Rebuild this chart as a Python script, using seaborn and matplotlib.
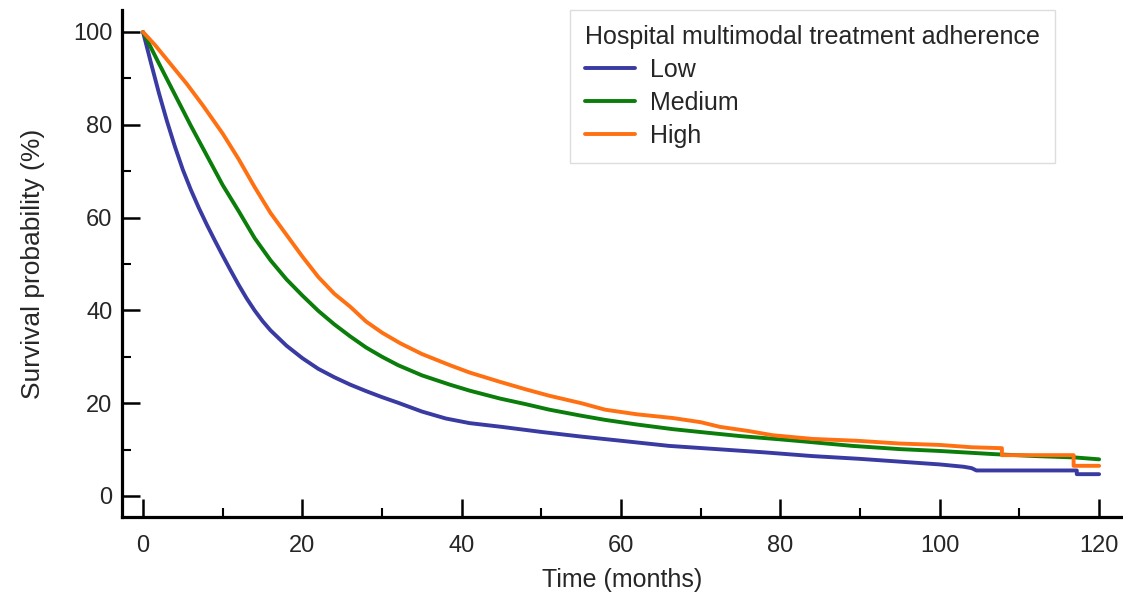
import numpy as np
import pandas as pd
import seaborn as sns
from matplotlib import pyplot as plt
from matplotlib.ticker import MultipleLocator

# survival curves (months, %)
low_t = [0, 1, 2, 3, 4, 5, 6, 7, 8, 9, 10, 11, 12, 13, 14, 15, 16, 18, 20, 22, 24, 26, 28, 30, 32, 35, 38,
         41, 45, 50, 55, 60, 66, 72, 78, 84, 90, 95, 100, 103, 104, 104.6, 117.2, 117.2, 120]
low_s = [100, 93.3, 86.8, 80.8, 75.3, 70.3, 66.0, 62.1, 58.5, 55.1, 51.8, 48.6, 45.5, 42.6, 40.0, 37.7, 35.7,
         32.4, 29.7, 27.4, 25.6, 24.0, 22.6, 21.3, 20.1, 18.2, 16.7, 15.7, 14.9, 13.8, 12.8, 11.9, 10.8,
         10.1, 9.4, 8.6, 8.0, 7.4, 6.8, 6.3, 6.0, 5.5, 5.5, 4.7, 4.7]

med_t = [0, 2, 4, 6, 8, 10, 12, 14, 16, 18, 20, 22, 24, 26, 28, 30, 32, 35, 38.5, 41, 44.8, 48, 51,
         55, 58, 62, 66.5, 71, 75, 80, 83.3, 89, 95, 100, 104, 107, 112, 117, 120]
med_s = [100, 93.2, 86.5, 79.8, 73.4, 67.0, 61.4, 55.6, 50.8, 46.7, 43.2, 39.9, 37.0, 34.4, 32.0, 30.0,
         28.2, 26.0, 24.0, 22.7, 21.0, 19.8, 18.6, 17.3, 16.4, 15.4, 14.4, 13.6, 12.9, 12.2, 11.7, 10.8,
         10.1, 9.7, 9.3, 9.0, 8.6, 8.3, 7.9]

high_t = [0, 1.5, 3.5, 5.5, 7.5, 10, 12, 14, 16, 18, 20, 22, 24, 26, 28, 30, 32.3, 35, 38.5, 41, 44.8, 48,
          51, 55, 58, 62, 66.5, 70, 72.4, 76, 79, 84, 89.6, 95, 100, 104, 107.8, 107.8, 112, 116.8, 116.8,
          120]
high_s = [100, 97.2, 93.0, 88.8, 84.2, 78.1, 72.6, 66.6, 61.0, 56.3, 51.6, 47.2, 43.6, 40.8, 37.6, 35.2,
          32.9, 30.6, 28.2, 26.6, 24.6, 23.0, 21.6, 20.0, 18.6, 17.6, 16.8, 15.9, 14.9, 14.0, 13.1, 12.3,
          11.9, 11.3, 11.0, 10.5, 10.3, 8.8, 8.8, 8.8, 6.5, 6.5]

groups = ["Low", "Medium", "High"]
colors = {"Low": "#3a3aa3", "Medium": "#0a7d0a", "High": "#ff7012"}

df = pd.concat([
    pd.DataFrame({"time": low_t, "surv": low_s, "group": "Low"}),
    pd.DataFrame({"time": med_t, "surv": med_s, "group": "Medium"}),
    pd.DataFrame({"time": high_t, "surv": high_s, "group": "High"}),
], ignore_index=True)

sns.set_theme(style="ticks")
plt.rcParams['font.family'] = ['Liberation Sans', 'DejaVu Sans']

fig = plt.figure(figsize=(11.23, 6.01), dpi=100)
ax = fig.add_axes([122 / 1123, 84 / 601, 1001 / 1123, 507 / 601])

sns.lineplot(data=df, x="time", y="surv", hue="group", hue_order=groups, palette=colors,
             estimator=None, sort=False, lw=2.8, ax=ax)

ax.set_xlim(-2.64, 123.0)
ax.set_ylim(-4.53, 104.74)
ax.xaxis.set_minor_locator(MultipleLocator(10))
ax.yaxis.set_minor_locator(MultipleLocator(10))
ax.set_xticks(np.arange(0, 121, 20))
ax.set_yticks(np.arange(0, 101, 20))
ax.tick_params(which="major", direction="in", length=13, width=1.8, labelsize=17, color="black")
ax.tick_params(which="minor", direction="in", length=6.5, width=1.5, color="black")
ax.tick_params(axis="x", which="major", pad=13)
ax.tick_params(axis="y", which="major", pad=7)
for s in ["top", "right"]:
    ax.spines[s].set_visible(False)
for s in ["left", "bottom"]:
    ax.spines[s].set_linewidth(2.3)
    ax.spines[s].set_color("black")

ax.set_xlabel("Time (months)", fontsize=18, labelpad=8)
ax.set_ylabel("Survival probability (%)", fontsize=19, labelpad=20)

handles, labels = ax.get_legend_handles_labels()
leg = ax.legend(handles, labels, title="Hospital multimodal treatment adherence", loc="upper left",
                bbox_to_anchor=(0.4476, 1.0), borderaxespad=0, fontsize=18, title_fontsize=18,
                alignment="left", frameon=True, fancybox=False, framealpha=1, edgecolor="#dddddd",
                handlelength=2.0, handletextpad=0.6, labelspacing=0.36, borderpad=0.6)
leg.get_frame().set_linewidth(1.0)

fig.savefig("out.png", dpi=100)
